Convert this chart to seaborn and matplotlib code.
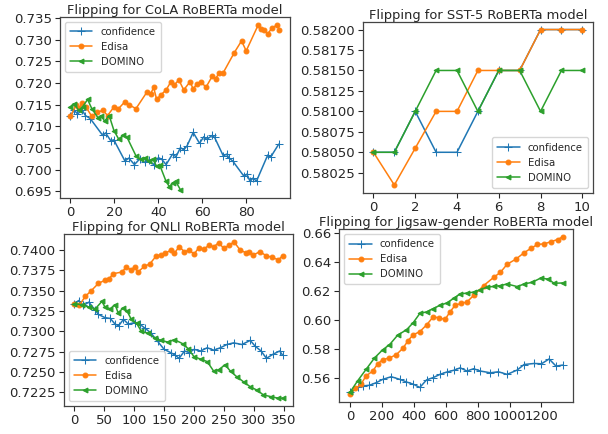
import numpy as np
import pandas as pd
import matplotlib
matplotlib.use("Agg")
import matplotlib.pyplot as plt
from matplotlib.ticker import MultipleLocator, FormatStrFormatter
import seaborn as sns

# ---- CoLA (points at turning points) ----
cola_conf_x = [0, 1.7, 3.2, 5.4, 6.8, 9, 14.7, 16, 18.3, 19.7, 24.8, 26.5, 29.1, 31.5, 33.7, 35.5, 37.8,
               40, 41.5, 43.5, 46.4, 48, 50, 51.5, 53, 55.8, 58.7, 60.6, 62, 64.4, 65.5, 69.5, 71, 72,
               73.8, 78.9, 80.2, 81.7, 83, 84.6, 89.7, 91, 94.7]
cola_conf_y = [0.7125, 0.7137, 0.7129, 0.7137, 0.7125, 0.7118, 0.7079, 0.7085, 0.7067, 0.7069, 0.7020,
               0.7027, 0.7012, 0.7025, 0.7017, 0.7022, 0.7012, 0.7028, 0.7024, 0.7012, 0.7036, 0.7030,
               0.7051, 0.7046, 0.7055, 0.7086, 0.7061, 0.7076, 0.7070, 0.7079, 0.7075, 0.7032, 0.7036,
               0.7028, 0.7020, 0.6985, 0.6990, 0.6973, 0.6981, 0.6974, 0.7034, 0.7029, 0.7059]
cola_edisa_x = [0, 2.5, 4, 5.4, 7, 9.7, 12, 14.7, 16.9, 19.8, 21.5, 24.8, 26.5, 29.8, 34.9, 36.5, 37.8,
                39.2, 41, 43.5, 45.7, 47.3, 49.3, 51.5, 54.4, 55.8, 57.5, 59.4, 61.6, 64.4, 66, 67.5,
                69.5, 74.5, 77.8, 79.9, 85.4, 86.5, 88, 89.7, 91.5, 94, 95]
cola_edisa_y = [0.7123, 0.7149, 0.7142, 0.7154, 0.7145, 0.7123, 0.7132, 0.7137, 0.7125, 0.7145, 0.7139,
                0.7157, 0.7150, 0.7141, 0.7180, 0.7175, 0.7190, 0.7162, 0.7172, 0.7184, 0.7203, 0.7196,
                0.7207, 0.7184, 0.7203, 0.7186, 0.7198, 0.7203, 0.7190, 0.7215, 0.7210, 0.7222, 0.7224,
                0.7270, 0.7297, 0.7274, 0.7334, 0.7325, 0.7322, 0.7313, 0.7326, 0.7334, 0.7322]
cola_domino_x = [0, 1.4, 3.9, 5.5, 7.8, 9.7, 12.5, 14, 15.5, 17.6, 19.8, 21.9, 24, 25.7, 29.8, 32, 34,
                 35.6, 37.5, 39.2, 40.5, 43.5, 45, 46.5, 47.9, 50]
cola_domino_y = [0.7145, 0.7152, 0.7137, 0.7145, 0.7162, 0.7141, 0.7120, 0.7125, 0.7112, 0.7125, 0.7090,
                 0.7071, 0.7079, 0.7075, 0.7032, 0.7024, 0.7028, 0.7020, 0.7024, 0.7008, 0.7012, 0.6973,
                 0.6961, 0.6970, 0.6973, 0.6954]

# ---- SST-5 ----
sst_x = list(range(11))
sst_conf = [0.58050, 0.58050, 0.58100, 0.58050, 0.58050, 0.58100, 0.58150, 0.58150, 0.58200, 0.58200, 0.58200]
sst_edisa = [0.58050, 0.58010, 0.58055, 0.58100, 0.58100, 0.58150, 0.58150, 0.58150, 0.58200, 0.58200, 0.58200]
sst_domino = [0.58050, 0.58050, 0.58100, 0.58150, 0.58150, 0.58100, 0.58150, 0.58150, 0.58100, 0.58150, 0.58150]

# ---- QNLI ----
qnli_conf_x = [0, 7, 15, 24, 35, 40, 51, 60, 68, 74, 82, 90, 101, 109, 118, 128, 139, 150, 161, 168, 175,
               184, 192, 200, 211, 222, 233, 244, 255, 266, 280, 294, 302, 312, 321, 332, 343, 348]
qnli_conf_y = [0.7334, 0.7338, 0.7332, 0.7336, 0.7326, 0.7321, 0.7317, 0.7316, 0.7309, 0.7307, 0.7315,
               0.7309, 0.7311, 0.7309, 0.7304, 0.7298, 0.7288, 0.7278, 0.7274, 0.7271, 0.7267, 0.7276,
               0.7274, 0.7278, 0.7276, 0.7280, 0.7277, 0.7280, 0.7284, 0.7286, 0.7284, 0.7289, 0.7282,
               0.7276, 0.7267, 0.7272, 0.7276, 0.7271]
qnli_edisa_x = [0, 8, 18, 28, 40, 51, 58, 65, 79, 87, 94, 101, 106, 117, 126, 137, 145, 152, 161, 167,
                175, 184, 192, 200, 208, 216, 225, 233, 241, 250, 258, 267, 277, 286, 292, 299, 310, 321,
                331, 341, 348]
qnli_edisa_y = [0.7334, 0.7332, 0.7343, 0.7350, 0.7359, 0.7363, 0.7365, 0.7371, 0.7373, 0.7379, 0.7376,
                0.7379, 0.7373, 0.7380, 0.7383, 0.7393, 0.7394, 0.7396, 0.7400, 0.7396, 0.7404, 0.7398,
                0.7400, 0.7395, 0.7403, 0.7401, 0.7406, 0.7404, 0.7409, 0.7402, 0.7406, 0.7410, 0.7400,
                0.7397, 0.7398, 0.7394, 0.7398, 0.7393, 0.7391, 0.7388, 0.7393]
qnli_domino_x = [0, 12, 24, 35, 46, 51, 60, 68, 73, 82, 88, 95, 104, 112, 123, 134, 145, 156, 167, 181,
                 190, 200, 211, 222, 233, 241, 252, 261, 272, 283, 294, 305, 316, 328, 341, 348]
qnli_domino_y = [0.7334, 0.7333, 0.7330, 0.7328, 0.7337, 0.7330, 0.7328, 0.7333, 0.7323, 0.7329, 0.7325,
                 0.7315, 0.7310, 0.7300, 0.7298, 0.7292, 0.7289, 0.7287, 0.7290, 0.7285, 0.7279, 0.7269,
                 0.7266, 0.7263, 0.7251, 0.7253, 0.7259, 0.7251, 0.7244, 0.7238, 0.7232, 0.7228, 0.7222,
                 0.7220, 0.7218, 0.7218]

# ---- Jigsaw-gender ----
jig_conf_x = [0, 48, 85, 122, 165, 206, 259, 312, 354, 396, 438, 480, 522, 564, 606, 650, 691, 733, 775,
              817, 880, 930, 985, 1048, 1091, 1154, 1200, 1248, 1291, 1333]
jig_conf_y = [0.5503, 0.5537, 0.5548, 0.5552, 0.5570, 0.5593, 0.5611, 0.5593, 0.5575, 0.5560, 0.5537,
              0.5589, 0.5605, 0.5627, 0.5643, 0.5655, 0.5672, 0.5650, 0.5666, 0.5650, 0.5638, 0.5645,
              0.5627, 0.5657, 0.5695, 0.5702, 0.5700, 0.5733, 0.5684, 0.5691]
jig_edisa_x = [0, 35, 69, 101, 143, 175, 206, 248, 291, 333, 365, 396, 438, 480, 522, 560, 596, 627, 659,
               695, 733, 775, 838, 901, 943, 985, 1040, 1091, 1135, 1175, 1217, 1260, 1301, 1333]
jig_edisa_y = [0.5491, 0.5530, 0.5559, 0.5616, 0.5650, 0.5700, 0.5729, 0.5740, 0.5763, 0.5808, 0.5860,
               0.5899, 0.5921, 0.5967, 0.6023, 0.6015, 0.6005, 0.6057, 0.6102, 0.6115, 0.6125, 0.6170,
               0.6238, 0.6295, 0.6329, 0.6385, 0.6420, 0.6464, 0.6495, 0.6521, 0.6525, 0.6540, 0.6555,
               0.6573]
jig_domino_x = [0, 48, 101, 154, 206, 248, 301, 354, 396, 438, 480, 522, 564, 606, 650, 691, 733, 775,
                817, 859, 900, 943, 985, 1048, 1091, 1140, 1196, 1238, 1280, 1333]
jig_domino_y = [0.5503, 0.5582, 0.5661, 0.5740, 0.5797, 0.5831, 0.5899, 0.5933, 0.5982, 0.6046, 0.6057,
                0.6080, 0.6102, 0.6118, 0.6150, 0.6181, 0.6186, 0.6193, 0.6210, 0.6227, 0.6232, 0.6238,
                0.6249, 0.6231, 0.6249, 0.6260, 0.6290, 0.6283, 0.6254, 0.6256]

labels = ["confidence", "Edisa", "DOMINO"]
colors = ["#1f77b4", "#ff7f0e", "#2ca02c"]
markers = ["+", "o", "<"]
marker_sizes = [6, 3.5, 3.5]

sns.set_style("white")
plt.rcParams["font.family"] = ["DejaVu Sans"]
plt.rcParams["xtick.bottom"] = True
plt.rcParams["ytick.left"] = True

fig = plt.figure(figsize=(6.08, 4.34), dpi=100)
positions = [
    [0.0987, 0.5438, 0.378, 0.418],
    [0.597, 0.5558, 0.378, 0.394],
    [0.1053, 0.0645, 0.3766, 0.396],
    [0.558, 0.0737, 0.385, 0.3986],
]
panels = [
    ("Flipping for CoLA RoBERTa model",
     [(cola_conf_x, cola_conf_y), (cola_edisa_x, cola_edisa_y), (cola_domino_x, cola_domino_y)],
     "upper left", 20, 0.005, "%.3f"),
    ("Flipping for SST-5 RoBERTa model",
     [(sst_x, sst_conf), (sst_x, sst_edisa), (sst_x, sst_domino)],
     "lower right", 2, 0.00025, "%.5f"),
    ("Flipping for QNLI RoBERTa model",
     [(qnli_conf_x, qnli_conf_y), (qnli_edisa_x, qnli_edisa_y), (qnli_domino_x, qnli_domino_y)],
     "lower left", 50, 0.0025, "%.4f"),
    ("Flipping for Jigsaw-gender RoBERTa model",
     [(jig_conf_x, jig_conf_y), (jig_edisa_x, jig_edisa_y), (jig_domino_x, jig_domino_y)],
     "upper left", 200, 0.02, "%.2f"),
]

for pos, (title, series, loc, xstep, ystep, yfmt) in zip(positions, panels):
    ax = fig.add_axes(pos)
    for (xs, ys), lab, col, mk, ms in zip(series, labels, colors, markers, marker_sizes):
        df = pd.DataFrame({"x": xs, "y": ys})
        sns.lineplot(data=df, x="x", y="y", ax=ax, color=col, label=lab, marker=mk,
                     markersize=ms, markeredgecolor=col, linewidth=1.1,
                     sort=False, estimator=None)
    ax.set_title(title, fontsize=9.4, pad=2)
    ax.set_xlabel("")
    ax.set_ylabel("")
    ax.xaxis.set_major_locator(MultipleLocator(xstep))
    ax.yaxis.set_major_locator(MultipleLocator(ystep))
    ax.yaxis.set_major_formatter(FormatStrFormatter(yfmt))
    ax.tick_params(labelsize=9.5, length=3.5, pad=2.5)
    for s in ax.spines.values():
        s.set_color("#444444")
        s.set_linewidth(0.9)
    ax.legend(loc=loc, fontsize=7.3, handlelength=2.2, borderpad=0.5)

fig.savefig("out.png", dpi=100)
